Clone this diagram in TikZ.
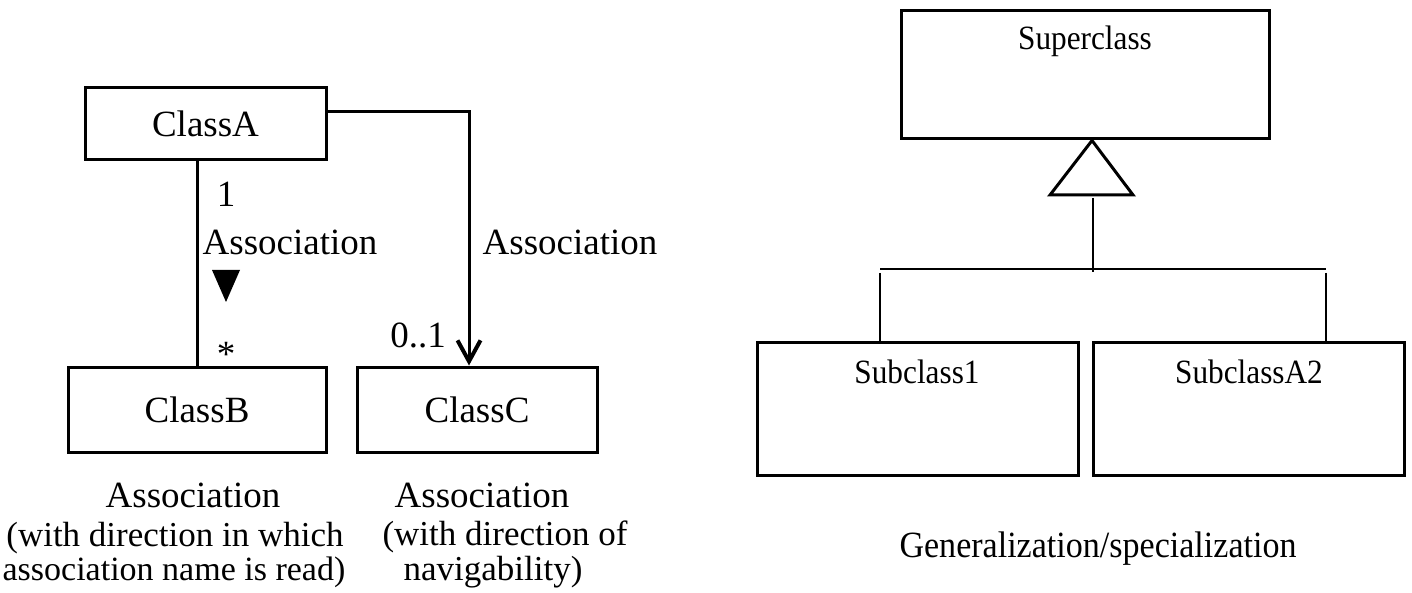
\documentclass[tikz,border=0pt]{standalone}
\usepackage{fontspec}
\setmainfont{Liberation Serif}
\newfontfamily\narrowserif[FakeStretch=0.92]{Liberation Serif}
\usetikzlibrary{arrows.meta}

\tikzset{
  classbox/.style={draw, line width=3pt, inner sep=0pt, anchor=center,
    font=\fontsize{37}{44}\selectfont},
  genbox/.style={draw, line width=3pt, inner sep=0pt, anchor=center},
  lbl/.style={inner sep=0pt, anchor=base, font=\fontsize{37}{44}\selectfont},
  smalllbl/.style={inner sep=0pt, anchor=base, font=\fontsize{35}{42}\selectfont},
  tinylbl/.style={inner sep=0pt, anchor=base, font=\fontsize{34}{41}\selectfont},
  narrowlbl/.style={inner sep=0pt, anchor=base, font=\narrowserif\fontsize{34}{40}\selectfont},
  biglbl/.style={inner sep=0pt, anchor=base, font=\narrowserif\fontsize{37}{44}\selectfont},
  assoc/.style={line width=3pt},
  genline/.style={line width=2.8pt},
  navtip/.style={-{Straight Barb[length=21pt,width=23pt,line width=4pt]}}
}

\begin{document}
\begin{tikzpicture}[x=1pt,y=-1pt]
\useasboundingbox (0,0) rectangle (1412,593);

% ---------- association with reading direction ----------
\node[classbox, minimum width=241pt, minimum height=72pt] (A) at (205.5,124) {ClassA};
\node[classbox, minimum width=258pt, minimum height=85pt] (B) at (197,409.5) {ClassB};
\node[classbox, minimum width=240pt, minimum height=85pt] (C) at (477,409.5) {ClassC};

\coordinate (abx) at (197,0);
\draw[assoc] (A.south -| abx) -- (B.north -| abx);

\node[lbl] (mA) at (226,207) {1};
\node[lbl] (nameAB) at (290,255) {Association};
\fill (212,270) -- (240,270) -- (226,302) -- cycle;
\node[lbl] (mB) at (226,366) {*};

% ---------- association with navigability ----------
\coordinate (acx) at (469,0);
\draw[assoc, navtip] ([yshift=12.3pt]A.east) -| (C.north -| acx);
\node[lbl] (mC) at (418,347) {0..1};
\node[lbl] (nameAC) at (570,255) {Association};

% ---------- captions ----------
\node[lbl] (cap1a) at (193,507) {Association};
\node[smalllbl] (cap1b) at (175,546) {(with direction in which};
\node[tinylbl] (cap1c) at (174,580) {association name is read)};
\node[lbl] (cap2a) at (482,507) {Association};
\node[smalllbl] (cap2b) at (505,545) {(with direction of};
\node[smalllbl] (cap2c) at (493,580) {navigability)};

% ---------- generalization / specialization ----------
\node[genbox, minimum width=368pt, minimum height=128pt] (Sup) at (1085,75) {};
\node[genbox, minimum width=321pt, minimum height=133pt] (S1) at (917.5,408.5) {};
\node[genbox, minimum width=311pt, minimum height=133pt] (S2) at (1248.5,408.5) {};
\node[narrowlbl] (SupT) at (1085,50) {Superclass};
\node[narrowlbl] (S1T) at (917,383) {Subclass1};
\node[narrowlbl] (S2T) at (1249,383) {SubclassA2};

% hollow triangle under the superclass
\draw[line width=3pt, line join=miter] (Sup.south -| 1092,0) -- (1133,195) -- (1050,195) -- cycle;

\coordinate (stem) at (1093,198);
\coordinate (bus) at (1093,269);
\coordinate (busL) at (880,269);
\coordinate (busR) at (1326,269);
\draw[genline] (stem) -- ([yshift=-3pt]bus);
\draw[genline] (busL) -- (busR);
\draw[genline] ([yshift=-4pt]busL) -- (S1.north -| busL);
\draw[genline] ([yshift=-4pt]busR) -- (S2.north -| busR);

\node[biglbl] (cap3) at (1098,557) {Generalization/specialization};
\end{tikzpicture}
\end{document}
